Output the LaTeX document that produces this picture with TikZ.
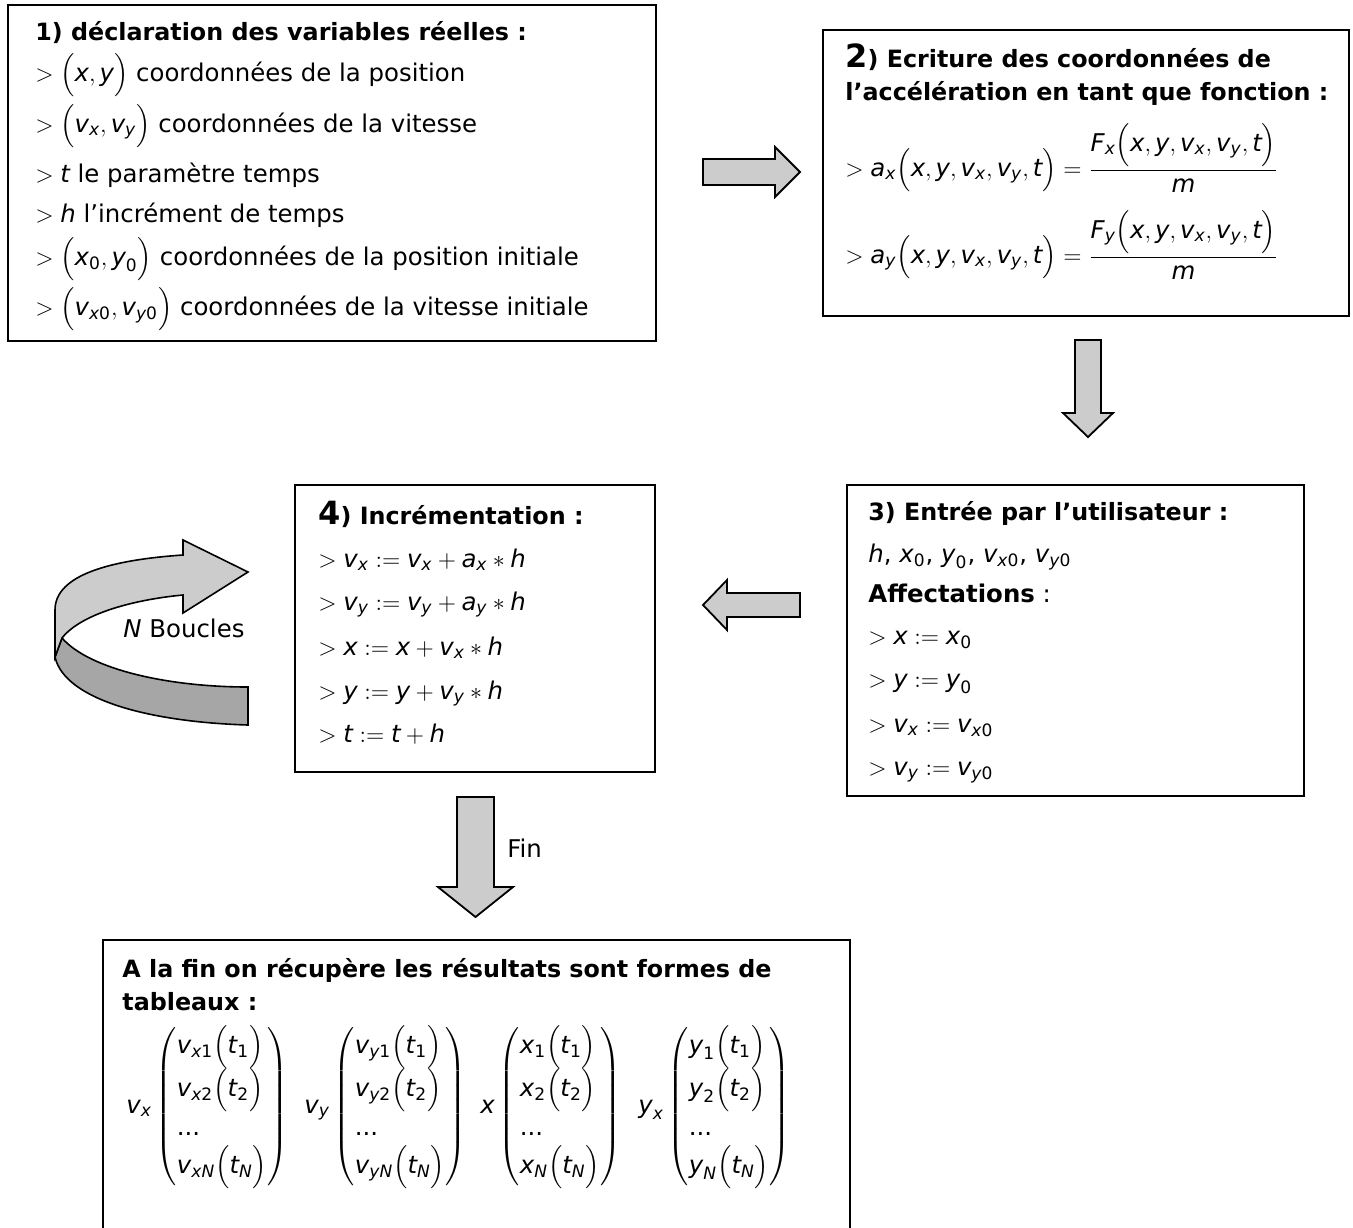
\documentclass[tikz,border=0pt]{standalone}
\usepackage{amsmath}
\usepackage{fontspec}
\setmainfont{DejaVu Sans}
\usetikzlibrary{fit}
\newcommand\mv[1]{\text{\itshape #1}}
\newcommand\nz[1]{\text{\upshape #1}}
\newcommand\lp{\Bigl(}
\newcommand\rp{\Bigr)}
\renewcommand{\arraystretch}{1.12}
\begin{document}
\begin{tikzpicture}[x=0.5pt,y=-0.5pt,
  box/.style={draw, line width=1pt, inner sep=0pt},
  txt/.style={anchor=base west, inner sep=0pt, font=\fontsize{12.2}{15}\selectfont},
  ttl/.style={anchor=base west, inner sep=0pt, font=\fontsize{11.9}{15}\selectfont\bfseries},
  eqn/.style={anchor=west, inner sep=0pt, font=\fontsize{12.2}{15}\selectfont},
  blk/.style={draw, line width=0.9pt, fill=black!20, line join=miter},
  bandlight/.style={draw, line width=0.8pt, fill=black!20},
  banddark/.style={draw, line width=0.8pt, fill=black!35}]
\useasboundingbox (0,0) rectangle (1353,1227);
\clip (0,0) rectangle (1353,1227);

% boxes
\node[box, fit={(8,5) (656,341)}] (b1) {};
\node[box, fit={(823,30) (1349,316)}] (b2) {};
\node[box, fit={(847,485) (1304,796)}] (b3) {};
\node[box, fit={(295,485) (655,772)}] (b4) {};
\node[box, fit={(103,940) (850,1245)}] (b5) {};

% box 1
\node[ttl] (t11) at (35,40) {1) déclaration des variables réelles :};
\node[txt] (t12) at (35,81) {$>\lp\mv{x},\mv{y}\rp$ coordonnées de la position};
\node[txt] (t13) at (35,132) {$>\lp\mv{v}_{\mv{x}},\mv{v}_{\mv{y}}\rp$ coordonnées de la vitesse};
\node[txt] (t14) at (35,182) {$>\mv{t}$ le paramètre temps};
\node[txt] (t15) at (35,222) {$>\mv{h}$ l'incrément de temps};
\node[txt] (t16) at (35,265) {$>\lp\mv{x}_{\nz{0}},\mv{y}_{\nz{0}}\rp$ coordonnées de la position initiale};
\node[txt] (t17) at (35,315) {$>\lp\mv{v}_{\mv{x}\nz{0}},\mv{v}_{\mv{y}\nz{0}}\rp$ coordonnées de la vitesse initiale};

% box 2
\node[ttl] (t21) at (845,67) {{\fontsize{16}{16}\selectfont 2}) Ecriture des coordonnées de};
\node[ttl] (t22) at (845,100) {l’accélération en tant que fonction :};
\node[eqn] (t23) at (845,158) {$>\mv{a}_{\mv{x}}\lp\mv{x},\mv{y},\mv{v}_{\mv{x}},\mv{v}_{\mv{y}},\mv{t}\rp=\dfrac{\mv{F}_{\mv{x}}\lp\mv{x},\mv{y},\mv{v}_{\mv{x}},\mv{v}_{\mv{y}},\mv{t}\rp}{\mv{m}}$};
\node[eqn] (t24) at (845,245) {$>\mv{a}_{\mv{y}}\lp\mv{x},\mv{y},\mv{v}_{\mv{x}},\mv{v}_{\mv{y}},\mv{t}\rp=\dfrac{\mv{F}_{\mv{y}}\lp\mv{x},\mv{y},\mv{v}_{\mv{x}},\mv{v}_{\mv{y}},\mv{t}\rp}{\mv{m}}$};

% box 3
\node[ttl] (t31) at (868,520) {3) Entrée par l’utilisateur :};
\node[txt] (t32) at (868,562) {$\mv{h}$, $\mv{x}_{\nz{0}}$, $\mv{y}_{\nz{0}}$, $\mv{v}_{\mv{x}\nz{0}}$, $\mv{v}_{\mv{y}\nz{0}}$};
\node[txt] (t33) at (868,602) {\textbf{Affectations} :};
\node[txt] (t34) at (868,644) {$>\mv{x}\mathrel{:=}\mv{x}_{\nz{0}}$};
\node[txt] (t35) at (868,687) {$>\mv{y}\mathrel{:=}\mv{y}_{\nz{0}}$};
\node[txt] (t36) at (868,732) {$>\mv{v}_{\mv{x}}\mathrel{:=}\mv{v}_{\mv{x}\nz{0}}$};
\node[txt] (t37) at (868,775) {$>\mv{v}_{\mv{y}}\mathrel{:=}\mv{v}_{\mv{y}\nz{0}}$};

% box 4
\node[ttl] (t41) at (318,524) {{\fontsize{16}{16}\selectfont 4}) Incrémentation :};
\node[txt] (t42) at (318,567) {$>\mv{v}_{\mv{x}}\mathrel{:=}\mv{v}_{\mv{x}}+\mv{a}_{\mv{x}}*\mv{h}$};
\node[txt] (t43) at (318,610) {$>\mv{v}_{\mv{y}}\mathrel{:=}\mv{v}_{\mv{y}}+\mv{a}_{\mv{y}}*\mv{h}$};
\node[txt] (t44) at (318,655) {$>\mv{x}\mathrel{:=}\mv{x}+\mv{v}_{\mv{x}}*\mv{h}$};
\node[txt] (t45) at (318,699) {$>\mv{y}\mathrel{:=}\mv{y}+\mv{v}_{\mv{y}}*\mv{h}$};
\node[txt] (t46) at (318,742) {$>\mv{t}\mathrel{:=}\mv{t}+\mv{h}$};

% box 5
\node[ttl] (t51) at (122,977) {A la fin on récupère les résultats sont formes de};
\node[ttl] (t52) at (122,1010) {tableaux :};
\node[eqn] (m1) at (126,1107) {$\mv{v}_{\mv{x}}\left(\begin{array}{@{}l@{}}
  \mv{v}_{\mv{x}\nz{1}}\lp\mv{t}_{\nz{1}}\rp\\
  \mv{v}_{\mv{x}\nz{2}}\lp\mv{t}_{\nz{2}}\rp\\
  \text{...}\\
  \mv{v}_{\mv{x}\mv{N}}\lp\mv{t}_{\mv{N}}\rp\end{array}\right)$};
\node[eqn] (m2) at (304,1107) {$\mv{v}_{\mv{y}}\left(\begin{array}{@{}l@{}}
  \mv{v}_{\mv{y}\nz{1}}\lp\mv{t}_{\nz{1}}\rp\\
  \mv{v}_{\mv{y}\nz{2}}\lp\mv{t}_{\nz{2}}\rp\\
  \text{...}\\
  \mv{v}_{\mv{y}\mv{N}}\lp\mv{t}_{\mv{N}}\rp\end{array}\right)$};
\node[eqn] (m3) at (480,1107) {$\mv{x}\left(\begin{array}{@{}l@{}}
  \mv{x}_{\nz{1}}\lp\mv{t}_{\nz{1}}\rp\\
  \mv{x}_{\nz{2}}\lp\mv{t}_{\nz{2}}\rp\\
  \text{...}\\
  \mv{x}_{\mv{N}}\lp\mv{t}_{\mv{N}}\rp\end{array}\right)$};
\node[eqn] (m4) at (638,1107) {$\mv{y}_{\mv{x}}\left(\begin{array}{@{}l@{}}
  \mv{y}_{\nz{1}}\lp\mv{t}_{\nz{1}}\rp\\
  \mv{y}_{\nz{2}}\lp\mv{t}_{\nz{2}}\rp\\
  \text{...}\\
  \mv{y}_{\mv{N}}\lp\mv{t}_{\mv{N}}\rp\end{array}\right)$};

% block arrows
\draw[blk] (703,159) -- (775,159) -- (775,147) -- (800,172) -- (775,197) -- (775,185) -- (703,185) -- cycle;
\draw[blk] (1075,340) -- (1101,340) -- (1101,413) -- (1113,413) -- (1088,437) -- (1063,413) -- (1075,413) -- cycle;
\draw[blk] (800,593) -- (727,593) -- (727,580) -- (703,605) -- (727,630) -- (727,617) -- (800,617) -- cycle;
\draw[blk] (457,797) -- (494,797) -- (494,887) -- (513,887) -- (475.5,917) -- (438,887) -- (457,887) -- cycle;
\node[txt] (fin) at (507,857) {Fin};

% loop arrow
\draw[banddark] (62,638) .. controls (90,670) and (170,687) .. (248,687) -- (248,725) .. controls (150,722) and (65,700) .. (55,657) -- cycle;
\draw[bandlight] (55,657) -- (55,610) .. controls (55,575) and (110,560) .. (183,555) -- (183,540) -- (248,572) -- (183,613) -- (183,595) .. controls (130,600) and (80,615) .. (62,638) -- cycle;
\node[txt] (loop) at (123,637) {$\mv{N}$ Boucles};
\end{tikzpicture}
\end{document}
